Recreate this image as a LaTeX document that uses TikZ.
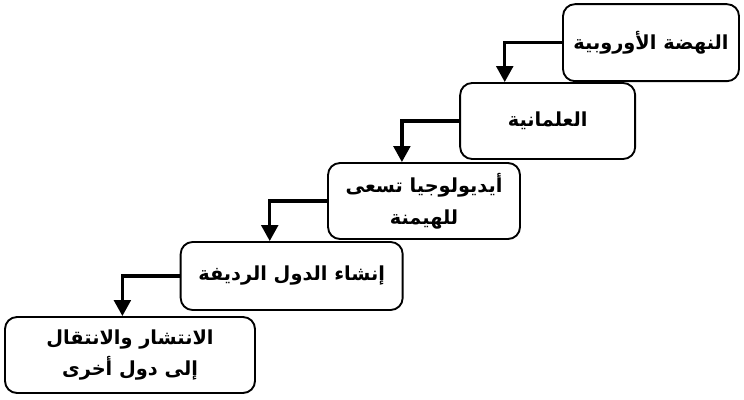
\documentclass[tikz,border=0pt]{standalone}
\usepackage{fontspec}
\newfontfamily\arabicfont[Script=Arabic]{DejaVu Sans}
\TeXXeTstate=1
\usetikzlibrary{arrows.meta,calc}

\begin{document}
\begin{tikzpicture}[
    font=\arabicfont\bfseries\fontsize{16.5}{27}\selectfont,
    stage/.style={draw, line width=1.6pt, rounded corners=0.36cm, fill=white,
                  align=center, inner sep=2pt},
    flow/.style={line width=2.8pt, -{Triangle[length=0.48cm, width=0.5cm]}}
]
    \useasboundingbox (0,0) rectangle (22.32,11.97);

    % Mrahel (min a3la ila asfal)
    \node[stage, minimum width=5.28cm, minimum height=2.31cm] (b1) at (19.53,10.69)
        {\beginR النهضة الأوروبية\endR};
    \node[stage, minimum width=5.25cm, minimum height=2.28cm] (b2) at (16.43,8.34)
        {\beginR العلمانية\endR};
    \node[stage, minimum width=5.76cm, minimum height=2.28cm] (b3) at (12.72,5.94)
        {\beginR أيديولوجيا تسعى\endR\\\beginR للهيمنة\endR};
    \node[stage, minimum width=6.66cm, minimum height=2.04cm] (b4) at (8.75,3.69)
        {\beginR إنشاء الدول الرديفة\endR};
    \node[stage, minimum width=7.5cm, minimum height=2.28cm] (b5) at (3.9,1.32)
        {\beginR الانتشار والانتقال\endR\\\beginR إلى دول أخرى\endR};

    % Asahem
    \foreach \a/\b in {b1/b2,b2/b3,b3/b4,b4/b5} {
        \draw[flow] (\a.west) -| ($(\a.west |- \b.north)+(-1.72,0)$);
    }
\end{tikzpicture}
\end{document}
